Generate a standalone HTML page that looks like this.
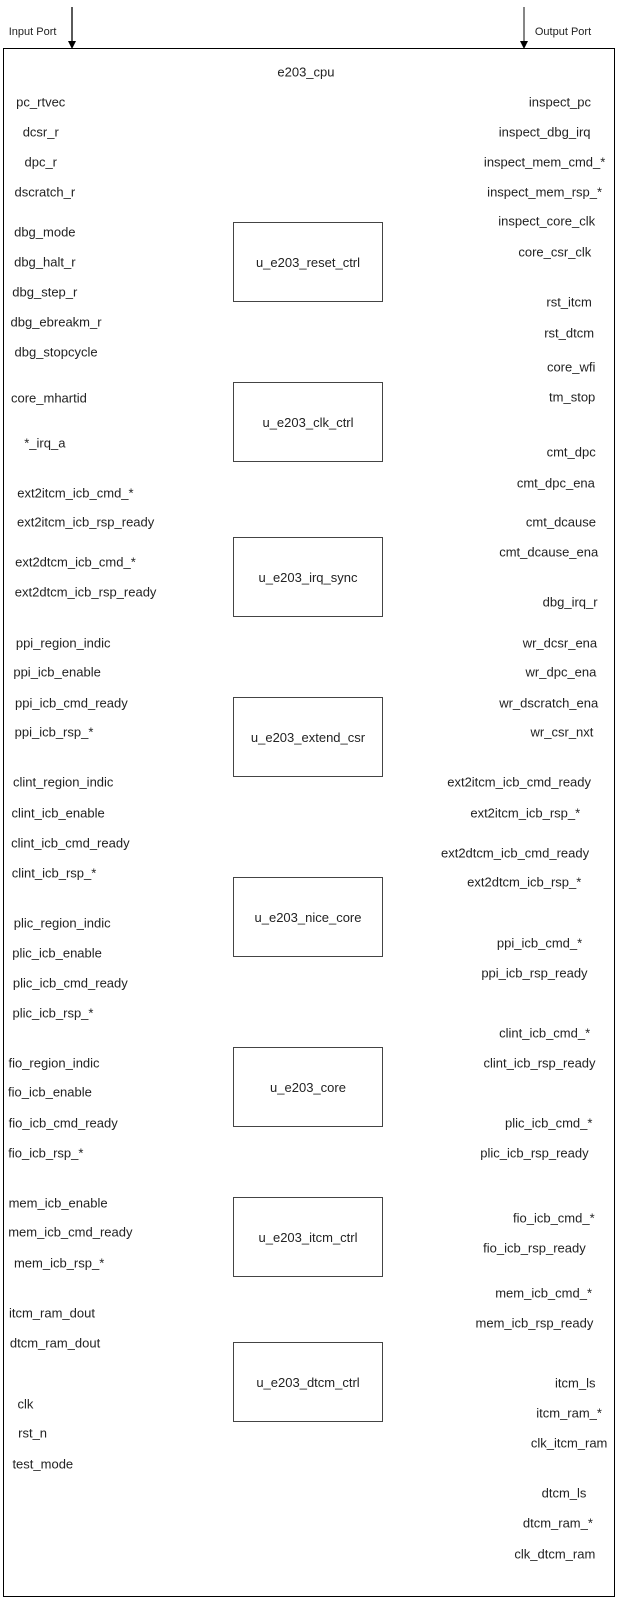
<!DOCTYPE html>
<html><head><meta charset="utf-8"><style>
html,body{margin:0;padding:0;background:#fff;width:618px;height:1598px;overflow:hidden;position:relative;font-family:"Liberation Sans",Arial,sans-serif;}
.t{position:absolute;font-size:13px;color:#222;white-space:nowrap;transform:translate(-50%,-50%);
left:calc(2px + (var(--x) - 4) * 1.02px);top:calc(48px + (var(--y) - 47) * 1.02px);}
.b{position:absolute;left:233px;width:148px;height:78px;border:1.5px solid #444;display:flex;align-items:center;justify-content:center;font-size:13px;color:#222;}
</style></head><body>
<div style="position:absolute;left:3px;top:48px;width:610px;height:1547px;border:1.5px solid #000;"></div>
<svg style="position:absolute;left:0;top:0" width="618" height="60">
<line x1="72" y1="7" x2="72" y2="42" stroke="#000" stroke-width="1.3"/>
<polygon points="68,41 76,41 72,49" fill="#000"/>
<line x1="524" y1="7" x2="524" y2="42" stroke="#444" stroke-width="1.3"/>
<polygon points="520,41 528,41 524,49" fill="#000"/>
</svg>
<div class="t" style="--x:34;--y:31;font-size:11px">Input Port</div>
<div class="t" style="--x:554;--y:31;font-size:11px">Output Port</div>
<div class="t" style="--x:302;--y:71">e203_cpu</div>

<div class="b" style="top:222px">u_e203_reset_ctrl</div>
<div class="b" style="top:382px">u_e203_clk_ctrl</div>
<div class="b" style="top:537px">u_e203_irq_sync</div>
<div class="b" style="top:697px">u_e203_extend_csr</div>
<div class="b" style="top:877px">u_e203_nice_core</div>
<div class="b" style="top:1047px">u_e203_core</div>
<div class="b" style="top:1197px">u_e203_itcm_ctrl</div>
<div class="b" style="top:1342px">u_e203_dtcm_ctrl</div>

<div class="t" style="--x:42;--y:100">pc_rtvec</div>
<div class="t" style="--x:42;--y:129">dcsr_r</div>
<div class="t" style="--x:42;--y:159">dpc_r</div>
<div class="t" style="--x:46;--y:188">dscratch_r</div>
<div class="t" style="--x:46;--y:227">dbg_mode</div>
<div class="t" style="--x:46;--y:257">dbg_halt_r</div>
<div class="t" style="--x:46;--y:286">dbg_step_r</div>
<div class="t" style="--x:57;--y:316">dbg_ebreakm_r</div>
<div class="t" style="--x:57;--y:345">dbg_stopcycle</div>
<div class="t" style="--x:50;--y:390">core_mhartid</div>
<div class="t" style="--x:46;--y:434">*_irq_a</div>
<div class="t" style="--x:76;--y:483">ext2itcm_icb_cmd_*</div>
<div class="t" style="--x:86;--y:512">ext2itcm_icb_rsp_ready</div>
<div class="t" style="--x:76;--y:551">ext2dtcm_icb_cmd_*</div>
<div class="t" style="--x:86;--y:580">ext2dtcm_icb_rsp_ready</div>
<div class="t" style="--x:64;--y:630">ppi_region_indic</div>
<div class="t" style="--x:58;--y:659">ppi_icb_enable</div>
<div class="t" style="--x:72;--y:689">ppi_icb_cmd_ready</div>
<div class="t" style="--x:55;--y:718">ppi_icb_rsp_*</div>
<div class="t" style="--x:64;--y:767">clint_region_indic</div>
<div class="t" style="--x:59;--y:797">clint_icb_enable</div>
<div class="t" style="--x:71;--y:826">clint_icb_cmd_ready</div>
<div class="t" style="--x:55;--y:856">clint_icb_rsp_*</div>
<div class="t" style="--x:63;--y:905">plic_region_indic</div>
<div class="t" style="--x:58;--y:934">plic_icb_enable</div>
<div class="t" style="--x:71;--y:964">plic_icb_cmd_ready</div>
<div class="t" style="--x:54;--y:993">plic_icb_rsp_*</div>
<div class="t" style="--x:55;--y:1042">fio_region_indic</div>
<div class="t" style="--x:51;--y:1071">fio_icb_enable</div>
<div class="t" style="--x:64;--y:1101">fio_icb_cmd_ready</div>
<div class="t" style="--x:47;--y:1130">fio_icb_rsp_*</div>
<div class="t" style="--x:59;--y:1179">mem_icb_enable</div>
<div class="t" style="--x:71;--y:1208">mem_icb_cmd_ready</div>
<div class="t" style="--x:60;--y:1238">mem_icb_rsp_*</div>
<div class="t" style="--x:53;--y:1287">itcm_ram_dout</div>
<div class="t" style="--x:56;--y:1317">dtcm_ram_dout</div>
<div class="t" style="--x:27;--y:1376">clk</div>
<div class="t" style="--x:34;--y:1405">rst_n</div>
<div class="t" style="--x:44;--y:1435">test_mode</div>

<div class="t" style="--x:551;--y:100">inspect_pc</div>
<div class="t" style="--x:536;--y:129">inspect_dbg_irq</div>
<div class="t" style="--x:536;--y:159">inspect_mem_cmd_*</div>
<div class="t" style="--x:536;--y:188">inspect_mem_rsp_*</div>
<div class="t" style="--x:538;--y:217">inspect_core_clk</div>
<div class="t" style="--x:546;--y:247">core_csr_clk</div>
<div class="t" style="--x:560;--y:296">rst_itcm</div>
<div class="t" style="--x:560;--y:326">rst_dtcm</div>
<div class="t" style="--x:562;--y:360">core_wfi</div>
<div class="t" style="--x:563;--y:389">tm_stop</div>
<div class="t" style="--x:562;--y:443">cmt_dpc</div>
<div class="t" style="--x:547;--y:473">cmt_dpc_ena</div>
<div class="t" style="--x:552;--y:512">cmt_dcause</div>
<div class="t" style="--x:540;--y:541">cmt_dcause_ena</div>
<div class="t" style="--x:561;--y:590">dbg_irq_r</div>
<div class="t" style="--x:551;--y:630">wr_dcsr_ena</div>
<div class="t" style="--x:552;--y:659">wr_dpc_ena</div>
<div class="t" style="--x:540;--y:689">wr_dscratch_ena</div>
<div class="t" style="--x:553;--y:718">wr_csr_nxt</div>
<div class="t" style="--x:511;--y:767">ext2itcm_icb_cmd_ready</div>
<div class="t" style="--x:517;--y:797">ext2itcm_icb_rsp_*</div>
<div class="t" style="--x:507;--y:836">ext2dtcm_icb_cmd_ready</div>
<div class="t" style="--x:516;--y:865">ext2dtcm_icb_rsp_*</div>
<div class="t" style="--x:531;--y:924">ppi_icb_cmd_*</div>
<div class="t" style="--x:526;--y:954">ppi_icb_rsp_ready</div>
<div class="t" style="--x:536;--y:1013">clint_icb_cmd_*</div>
<div class="t" style="--x:531;--y:1042">clint_icb_rsp_ready</div>
<div class="t" style="--x:540;--y:1101">plic_icb_cmd_*</div>
<div class="t" style="--x:526;--y:1130">plic_icb_rsp_ready</div>
<div class="t" style="--x:545;--y:1194">fio_icb_cmd_*</div>
<div class="t" style="--x:526;--y:1223">fio_icb_rsp_ready</div>
<div class="t" style="--x:535;--y:1268">mem_icb_cmd_*</div>
<div class="t" style="--x:526;--y:1297">mem_icb_rsp_ready</div>
<div class="t" style="--x:566;--y:1356">itcm_ls</div>
<div class="t" style="--x:560;--y:1385">itcm_ram_*</div>
<div class="t" style="--x:560;--y:1415">clk_itcm_ram</div>
<div class="t" style="--x:555;--y:1464">dtcm_ls</div>
<div class="t" style="--x:549;--y:1493">dtcm_ram_*</div>
<div class="t" style="--x:546;--y:1523">clk_dtcm_ram</div>
</body></html>
